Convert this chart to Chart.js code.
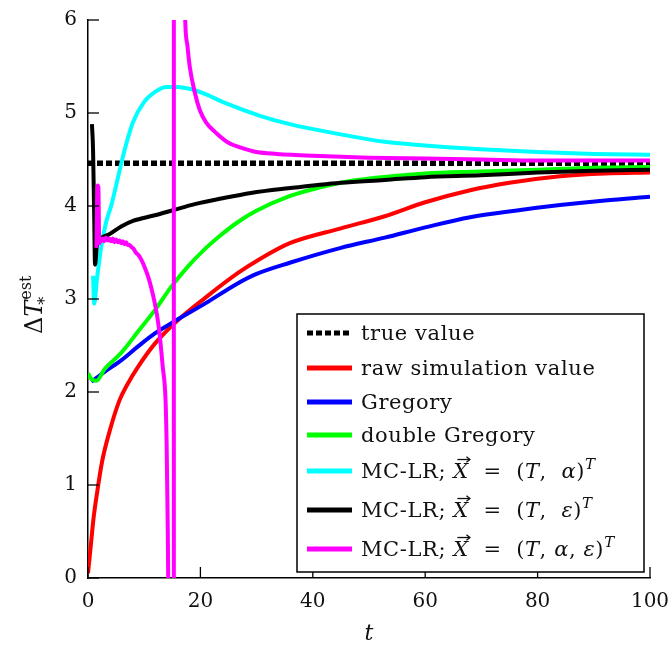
<!DOCTYPE html>
<html><head><meta charset="utf-8">
<script src="https://cdn.jsdelivr.net/npm/chart.js@4/dist/chart.umd.min.js"></script>
<style>html,body{margin:0;padding:0;background:#fff}</style>
</head><body>
<canvas id="c" width="672" height="648"></canvas>
<script>
// ---- data ----
const xTicks = [0, 20, 40, 60, 80, 100];
const yTicks = [0, 1, 2, 3, 4, 5, 6];
const seriesLabels = ["true value", "raw simulation value", "Gregory", "double Gregory",
  "MC-LR; X = (T, α)^T", "MC-LR; X = (T, ε)^T", "MC-LR; X = (T, α, ε)^T"];

const trueT = [0, 100];
const trueV = [4.46, 4.46];

const rawT = [0, 0.5, 1, 1.6, 2.5, 3.9, 5.6, 7, 8.9, 11.9, 15.4, 20.8, 26.7, 30.6, 35.9, 45, 52.8, 60, 68, 75, 84, 92, 100];
const rawV = [0.05, 0.35, 0.65, 0.91, 1.25, 1.59, 1.91, 2.08, 2.27, 2.52, 2.74, 3.01, 3.28, 3.43, 3.60, 3.76, 3.89, 4.04, 4.17, 4.25, 4.32, 4.35, 4.36];

const gregT = [0.6, 3, 5.9, 8.9, 11.9, 15.4, 20.8, 26.7, 30, 35.9, 45, 52.8, 60, 68, 76, 84, 92, 100];
const gregV = [2.11, 2.22, 2.34, 2.49, 2.63, 2.76, 2.95, 3.17, 3.27, 3.39, 3.55, 3.66, 3.77, 3.88, 3.95, 4.01, 4.06, 4.10];

const dgregT = [0, 0.6, 1.5, 3, 5.9, 8.9, 11.9, 14.8, 17.8, 20.5, 23.7, 26.5, 29.7, 35.6, 40, 45, 50.8, 60, 69.8, 80, 90, 100];
const dgregV = [2.20, 2.14, 2.12, 2.25, 2.42, 2.65, 2.88, 3.13, 3.35, 3.52, 3.69, 3.82, 3.94, 4.10, 4.18, 4.25, 4.30, 4.35, 4.37, 4.39, 4.41, 4.42];

const lrAlphaT = [0.9, 1.1, 1.6, 2.4, 3.2, 4.2, 5.5, 6.5, 8, 10, 12, 14, 16, 18.7, 21, 24.7, 30.6, 35.9, 45, 52.8, 60, 69.8, 80, 90, 100];
const lrAlphaV = [3.25, 2.95, 3.22, 3.58, 3.82, 4.02, 4.35, 4.60, 4.90, 5.12, 5.23, 5.28, 5.28, 5.25, 5.20, 5.10, 4.97, 4.88, 4.77, 4.69, 4.65, 4.61, 4.58, 4.56, 4.55];

const lrEpsT = [0.7, 0.9, 1.1, 1.25, 1.6, 2, 2.5, 3.6, 5.9, 8, 11.9, 15.4, 19, 23.7, 29, 35.6, 45, 52.8, 60, 69.8, 80, 90, 100];
const lrEpsV = [4.88, 4.60, 3.90, 3.37, 3.58, 3.62, 3.66, 3.69, 3.78, 3.84, 3.90, 3.96, 4.02, 4.08, 4.14, 4.19, 4.25, 4.28, 4.31, 4.33, 4.36, 4.38, 4.39];

const lrBothT = [1.5, 1.7, 1.85, 2.0, 2.3, 2.6, 2.9, 3.2, 3.5, 3.8, 4.1, 4.4, 4.7, 5.0, 5.3, 5.6, 5.9, 6.2, 6.5, 6.8, 7.1, 7.4, 7.7, 8.1, 8.5, 9.0, 9.5, 10.1, 10.7, 11.3, 11.9, 12.4, 12.8, 13.3, 13.8, 14.0, 14.2, 14.4, 14.7, 15.0, 15.25, 15.3, 16.0, 16.7, 17.0, 17.3, 17.7, 18.1, 19.0, 19.9, 21.0, 22.9, 25.0, 27.6, 30.0, 33.6, 40, 50, 60, 70, 80, 90, 100];
const lrBothV = [3.55, 4.22, 4.20, 3.60, 3.63, 3.65, 3.62, 3.66, 3.63, 3.65, 3.62, 3.65, 3.61, 3.64, 3.61, 3.63, 3.60, 3.62, 3.59, 3.61, 3.58, 3.58, 3.56, 3.54, 3.50, 3.47, 3.42, 3.34, 3.24, 3.11, 2.95, 2.78, 2.59, 2.27, 1.91, 1.41, 0.5, -1, -5, -20, -300, 300, 30, 9, 7.0, 6.0, 5.72, 5.5, 5.22, 5.03, 4.90, 4.78, 4.68, 4.62, 4.58, 4.56, 4.54, 4.52, 4.51, 4.50, 4.49, 4.49, 4.49];

const seriesColors = ["#000000", "#ff0000", "#0000ff", "#00ff00", "#00ffff", "#000000", "#ff00ff"];

// ---- build datasets ----
function pts(t, v) { return t.map((x, i) => ({ x: x, y: v[i] })); }
const seriesData = [pts(trueT, trueV), pts(rawT, rawV), pts(gregT, gregV), pts(dgregT, dgregV),
  pts(lrAlphaT, lrAlphaV), pts(lrEpsT, lrEpsV), pts(lrBothT, lrBothV)];

const datasets = seriesData.map((d, i) => ({
  label: seriesLabels[i],
  data: d,
  borderColor: seriesColors[i],
  backgroundColor: seriesColors[i],
  borderWidth: i === 0 ? 5.5 : 4,
  borderDash: i === 0 ? [6, 3] : [],
  pointRadius: 0,
  cubicInterpolationMode: 'monotone',
  fill: false,
  order: 7 - i
}));

const SERIF = "'DejaVu Serif', 'Liberation Serif', serif";

function drawRich(ctx, x, y, segs, size) {
  for (const s of segs) {
    const [txt, kind] = s;
    let font, dy = 0;
    if (kind === 'r') font = size + 'px ' + SERIF;
    else if (kind === 'i' || kind === 'v') font = 'italic ' + size + 'px ' + SERIF;
    else if (kind === 'sup') { font = 'italic ' + Math.round(size * 0.7) + 'px ' + SERIF; dy = -size * 0.45; }
    ctx.font = font;
    ctx.fillText(txt, x, y + dy);
    const w = ctx.measureText(txt).width;
    if (kind === 'v') {
      const ax0 = x + 4, ax1 = x + w + 1, ay = y - size * 0.88;
      ctx.save();
      ctx.lineWidth = 1.3;
      ctx.beginPath(); ctx.moveTo(ax0, ay); ctx.lineTo(ax1, ay); ctx.stroke();
      ctx.beginPath(); ctx.moveTo(ax1 - 3.5, ay - 2.8); ctx.lineTo(ax1, ay); ctx.lineTo(ax1 - 3.5, ay + 2.8); ctx.stroke();
      ctx.restore();
    }
    x += w;
  }
  return x;
}

const legendRich = [
  [["true value", 'r']],
  [["raw simulation value", 'r']],
  [["Gregory", 'r']],
  [["double Gregory", 'r']],
  [["MC-LR; ", 'r'], ["X", 'v'], ["  =  (", 'r'], ["T", 'i'], [",  ", 'r'], ["α", 'i'], [")", 'r'], ["T", 'sup']],
  [["MC-LR; ", 'r'], ["X", 'v'], ["  =  (", 'r'], ["T", 'i'], [",  ", 'r'], ["ε", 'i'], [")", 'r'], ["T", 'sup']],
  [["MC-LR; ", 'r'], ["X", 'v'], ["  =  (", 'r'], ["T", 'i'], [", ", 'r'], ["α", 'i'], [", ", 'r'], ["ε", 'i'], [")", 'r'], ["T", 'sup']]
];
const legendRowY = [333, 368, 402, 435, 471, 510, 549];

const decor = {
  id: 'decor',
  afterDraw(chart) {
    const ctx = chart.ctx, xs = chart.scales.x, ys = chart.scales.y, a = chart.chartArea;
    ctx.save();
    ctx.strokeStyle = '#000'; ctx.lineWidth = 1.3;
    xTicks.forEach(v => { const p = xs.getPixelForValue(v); ctx.beginPath(); ctx.moveTo(p, a.bottom); ctx.lineTo(p, a.bottom - 11); ctx.stroke(); });
    yTicks.forEach(v => { const p = ys.getPixelForValue(v); ctx.beginPath(); ctx.moveTo(a.left, p); ctx.lineTo(a.left + 11, p); ctx.stroke(); });

    // legend box
    const bx = 297, by = 314, bw = 347, bh = 258;
    ctx.fillStyle = '#fff'; ctx.fillRect(bx, by, bw, bh);
    ctx.lineWidth = 1.5; ctx.strokeStyle = '#000'; ctx.strokeRect(bx, by, bw, bh);
    chart.data.datasets.forEach((ds, i) => {
      const y = legendRowY[i];
      ctx.save();
      ctx.strokeStyle = ds.borderColor; ctx.lineWidth = 5;
      ctx.setLineDash(i === 0 ? [6, 3] : []);
      ctx.beginPath(); ctx.moveTo(307, y); ctx.lineTo(352, y); ctx.stroke();
      ctx.restore();
      ctx.save();
      ctx.fillStyle = '#111'; ctx.strokeStyle = '#111';
      ctx.textBaseline = 'alphabetic'; ctx.textAlign = 'left';
      ctx.letterSpacing = '0.6px';
      drawRich(ctx, 361, y + 7, legendRich[i], 21);
      ctx.restore();
    });

    // x title
    ctx.fillStyle = '#111';
    ctx.font = 'italic 22px ' + SERIF; ctx.textAlign = 'center'; ctx.textBaseline = 'alphabetic';
    ctx.fillText('t', (a.left + a.right) / 2, 640);

    // y title  ΔT_*^est  (rotated)
    ctx.save();
    ctx.translate(42, 334); ctx.rotate(-Math.PI / 2);
    ctx.textAlign = 'left'; ctx.textBaseline = 'alphabetic';
    ctx.font = '24px ' + SERIF; ctx.fillText('Δ', 0, 0);
    const w = ctx.measureText('Δ').width;
    ctx.font = 'italic 24px ' + SERIF; ctx.fillText('T', w, 0);
    const wT = ctx.measureText('T').width;
    ctx.font = '16px ' + SERIF; ctx.fillText('*', w + wT - 4, 8);
    ctx.fillText('est', w + wT + 1, -11);
    ctx.restore();
    ctx.restore();
  }
};

new Chart(document.getElementById('c'), {
  type: 'line',
  data: { datasets: datasets },
  options: {
    responsive: false,
    animation: false,
    devicePixelRatio: 1,
    layout: { padding: { top: 20, right: 22, left: 0, bottom: 0 } },
    plugins: { legend: { display: false }, tooltip: { enabled: false } },
    scales: {
      x: {
        type: 'linear', min: 0, max: 100,
        afterBuildTicks: s => { s.ticks = xTicks.map(v => ({ value: v })); },
        afterFit: s => { s.height = 70; s.paddingLeft = 0; s.paddingRight = 0; },
        grid: { display: false, drawTicks: false },
        border: { display: true, color: '#000', width: 1.5 },
        ticks: { color: '#111', padding: 12, maxRotation: 0, font: { family: SERIF, size: 20 } }
      },
      y: {
        type: 'linear', min: 0, max: 6,
        afterBuildTicks: s => { s.ticks = yTicks.map(v => ({ value: v })); },
        afterFit: s => { s.width = 88; s.paddingTop = 0; s.paddingBottom = 0; },
        grid: { display: false, drawTicks: false },
        border: { display: true, color: '#000', width: 1.5 },
        ticks: { color: '#111', padding: 11, font: { family: SERIF, size: 20 } }
      }
    }
  },
  plugins: [decor]
});
</script>
</body></html>
